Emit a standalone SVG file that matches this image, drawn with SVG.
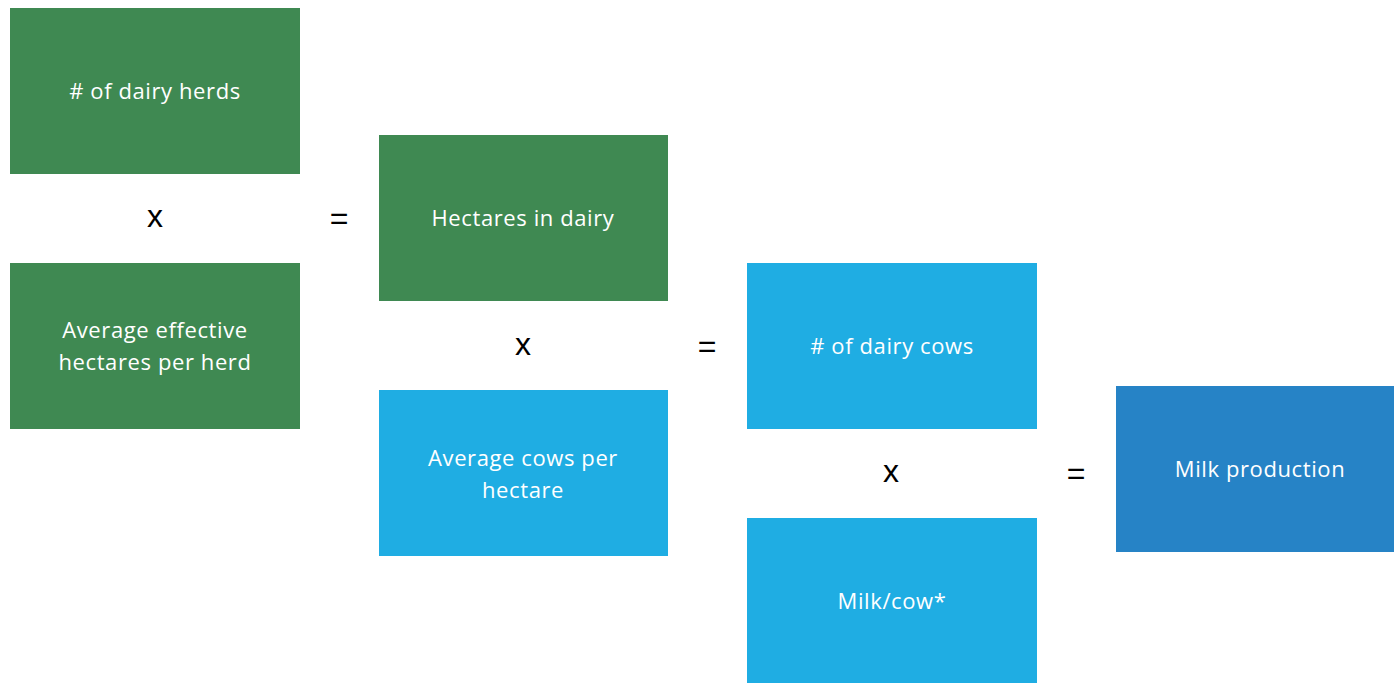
<svg xmlns="http://www.w3.org/2000/svg" width="1394" height="683" viewBox="0 0 1394 683">
<style>
.g{fill:#3F8952}
.b{fill:#1FADE3}
.d{fill:#2683C6}
.t{font-family:"Open Sans","Noto Sans",sans-serif;font-size:22px;letter-spacing:0.6px;fill:#ffffff;text-anchor:middle}
.op{font-family:"Liberation Sans",Arial,sans-serif;font-size:32px;fill:#000000;text-anchor:middle}
</style>
<rect width="1394" height="683" fill="#ffffff"/>
<g id="herds"><rect class="g" x="10" y="8" width="290" height="166"/><text class="t" x="155" y="99"># of dairy herds</text></g>
<g id="avg-hectares"><rect class="g" x="10" y="263" width="290" height="166"/><text class="t" x="155" y="338">Average effective</text><text class="t" x="155" y="370">hectares per herd</text></g>
<g id="hectares"><rect class="g" x="379" y="135" width="289" height="166"/><text class="t" x="523" y="226">Hectares in dairy</text></g>
<g id="avg-cows"><rect class="b" x="379" y="390" width="289" height="166"/><text class="t" x="523" y="466">Average cows per</text><text class="t" x="523" y="498">hectare</text></g>
<g id="cows"><rect class="b" x="747" y="263" width="290" height="166"/><text class="t" x="892" y="354"># of dairy cows</text></g>
<g id="milkcow"><rect class="b" x="747" y="518" width="290" height="165"/><text class="t" x="892" y="609">Milk/cow*</text></g>
<g id="milk"><rect class="d" x="1116" y="386" width="278" height="166"/><text class="t" x="1260" y="477">Milk production</text></g>
<g id="connectors">
<text class="op" x="155" y="227">x</text>
<text class="op" x="339" y="229">=</text>
<text class="op" x="523" y="355">x</text>
<text class="op" x="707" y="357">=</text>
<text class="op" x="891" y="482">x</text>
<text class="op" x="1076" y="484">=</text>
</g>
</svg>
